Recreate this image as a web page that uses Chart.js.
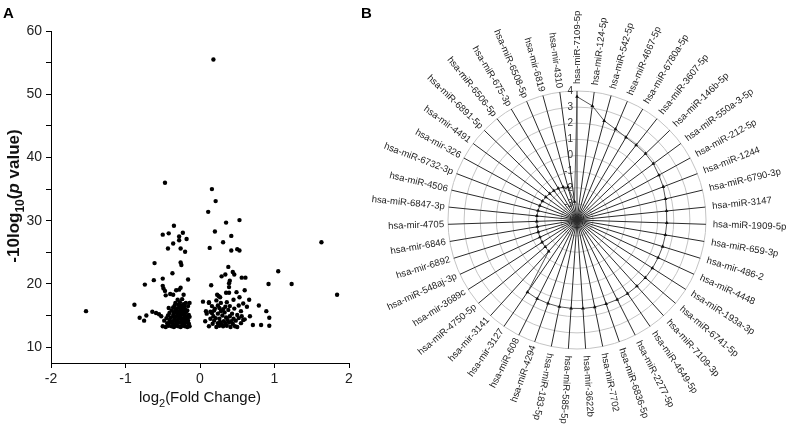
<!DOCTYPE html>
<html>
<head>
<meta charset="utf-8">
<title>Volcano plot and radar chart</title>
<script src="https://cdn.jsdelivr.net/npm/chart.js@4.4.1/dist/chart.umd.min.js"></script>
<style>
  body { margin: 0; background: #fff; }
  #figure { position: relative; width: 787px; height: 426px; overflow: hidden; }
  .panel { position: absolute; top: 0; }
  .panel-letter { position: absolute; top: 4px; font: bold 15px Arial, "Liberation Sans", sans-serif; color: #000; z-index: 2; }
</style>
</head>
<body>
<div id="figure">
  <div class="panel-letter" style="left:3px">A</div>
  <div class="panel-letter" style="left:361px">B</div>
  <canvas id="volcanoChart" class="panel" width="370" height="426" style="left:0"></canvas>
  <canvas id="radarChart" class="panel" width="429" height="426" style="left:358px"></canvas>
</div>
<script>
// ---- Panel A data: [log2(fold change), -10log10(p value)] ----
const outlierPoints = [
  [0.18,55.5],[-0.47,36],[0.16,35],[0.21,33.1],[0.11,31.4],[0.53,30.1],[-0.35,29.2],[0.35,29.7],
  [0.2,28.3],[-0.5,27.8],[-0.42,28.0],[-0.23,28.1],[-0.28,27.5],[0.42,27.6],[-0.18,27.1],[-0.28,26.9],
  [-0.36,26.4],[1.63,26.6],[0.31,26.6],[-0.43,25.6],[-0.26,25.6],[-0.2,25.1],[0.13,25.7],[0.5,25.5],
  [0.53,25.3],[0.42,25.3],[-0.26,23.4],[-0.25,23.0],[-0.61,23.3],[0.38,22.7],[-0.37,21.7],[1.05,22.0],
  [0.44,21.9],[0.46,21.5],[0.34,21.5],[0.29,21.2],[0.56,21.0],[0.61,21.0],[-0.5,20.85],[-0.16,20.7],
  [-0.62,20.6],[0.4,20.5],[0.39,20.1],[0.92,20.0],[1.23,20.0],[-0.74,19.9],[0.15,19.8],[-0.5,19.7],
  [-0.49,19.3],[0.6,19.0],[-0.26,19.4],[0.39,19.5],[-0.47,18.9],[-0.32,19.0],[-0.28,19.1],[0.49,18.7],
  [0.35,18.6],[0.39,18.6],[1.84,18.3],[-0.46,18.2],[-0.4,18.4],[-0.36,18.3],[-0.22,18.3],[0.23,18.3],
  [0.25,18.1],[0.27,17.9],[0.66,17.5],[0.53,17.9],[0.04,17.2],[-0.14,17.0],[0.12,17.1],[-0.88,16.7],
  [0.79,16.6],[0.89,15.7],[-1.53,15.7],[-0.64,15.6],[-0.59,15.4],[0.93,14.65],[-0.81,14.65],[-0.72,15.0],
  [-0.75,14.2],[-0.52,14.9],[0.71,13.5],[0.82,13.5],[0.93,13.4],[0.63,16.4],[0.67,14.9],[0.6,14.4],
  [-0.55,15.2]
];
const downClusterPoints = [
  [-0.50,13.3],[-0.46,13.2],[-0.42,13.4],[-0.38,13.3],[-0.35,13.2],[-0.32,13.4],[-0.29,13.3],[-0.26,13.2],
  [-0.23,13.4],[-0.20,13.3],[-0.17,13.2],[-0.14,13.3],
  [-0.44,13.8],[-0.40,13.9],[-0.36,13.7],[-0.31,13.8],[-0.27,13.9],[-0.24,13.7],[-0.21,13.8],[-0.18,13.9],[-0.15,13.7],
  [-0.48,14.2],[-0.41,14.3],[-0.37,14.1],[-0.33,14.2],[-0.30,14.3],[-0.25,14.2],[-0.22,14.1],[-0.19,14.3],[-0.16,14.2],
  [-0.45,14.6],[-0.39,14.7],[-0.34,14.5],[-0.28,14.6],[-0.26,14.8],[-0.23,14.5],[-0.20,14.7],[-0.17,14.6],[-0.14,14.8],
  [-0.43,15.0],[-0.36,15.1],[-0.32,14.9],[-0.29,15.0],[-0.24,15.2],[-0.21,15.0],[-0.18,14.9],[-0.15,15.1],
  [-0.41,15.4],[-0.35,15.5],[-0.31,15.4],[-0.27,15.3],[-0.25,15.6],[-0.22,15.4],[-0.19,15.5],
  [-0.38,15.8],[-0.33,15.9],[-0.30,15.7],[-0.26,15.9],[-0.23,15.8],[-0.20,16.0],[-0.17,15.8],
  [-0.42,16.2],[-0.36,16.3],[-0.31,16.1],[-0.28,16.3],[-0.24,16.2],[-0.21,16.4],
  [-0.34,16.6],[-0.29,16.7],[-0.25,16.6],[-0.22,16.8],[-0.16,16.5],
  [-0.33,17.0],[-0.27,17.1],[-0.19,17.0],[-0.30,17.5],[-0.24,17.6]
];
const upClusterPoints = [
  [0.12,13.3],[0.22,13.2],[0.26,13.4],[0.31,13.3],[0.36,13.4],[0.41,13.2],[0.47,13.3],[0.50,13.2],
  [0.17,13.7],[0.24,13.8],[0.29,13.6],[0.34,13.7],[0.39,13.9],[0.44,13.7],[0.55,13.8],
  [0.07,14.1],[0.19,14.2],[0.27,14.0],[0.32,14.1],[0.37,14.3],[0.42,14.1],[0.48,14.2],[0.58,14.3],
  [0.14,14.5],[0.21,14.6],[0.26,14.5],[0.35,14.7],[0.45,14.5],[0.52,14.6],
  [0.18,14.9],[0.30,15.0],[0.40,14.9],[0.50,15.1],[0.56,14.9],
  [0.09,15.3],[0.16,15.4],[0.24,15.3],[0.33,15.5],[0.43,15.3],
  [0.08,15.7],[0.14,15.6],[0.19,15.8],[0.28,15.7],[0.38,15.9],[0.55,15.7],
  [0.20,16.1],[0.26,16.2],[0.31,16.0],[0.46,16.1],
  [0.16,16.5],[0.24,16.6],[0.34,16.4],[0.40,16.5],[0.52,16.6],
  [0.12,17.0],[0.28,17.0],[0.36,17.1],[0.58,16.9],[0.22,17.4],[0.45,17.5]
];
const xRangeA = [-2, 2];
const yRangeA = [7.5, 60];

// ---- Panel B data ----
const miRNAs = [
  'hsa-miR-7109-5p','hsa-miR-124-5p','hsa-miR-542-5p','hsa-miR-4667-5p','hsa-miR-6780a-5p',
  'hsa-miR-3607-5p','hsa-miR-146b-5p','hsa-miR-550a-3-5p','hsa-miR-212-5p','hsa-miR-1244',
  'hsa-miR-6790-3p','hsa-miR-3147','hsa-miR-1909-5p','hsa-miR-659-3p','hsa-mir-486-2',
  'hsa-miR-4448','hsa-miR-193a-3p','hsa-miR-6741-5p','hsa-miR-7109-3p','hsa-miR-4649-5p',
  'hsa-miR-2277-5p','hsa-miR-6836-5p','hsa-miR-7702','hsa-mir-3622b','hsa-miR-585-5p',
  'hsa-miR-183-5p','hsa-miR-4294','hsa-miR-608','hsa-mir-3127','hsa-mir-3141',
  'hsa-miR-4750-5p','hsa-mir-3689c','hsa-miR-548aj-3p','hsa-mir-6892','hsa-mir-6846',
  'hsa-mir-4705','hsa-miR-6847-3p','hsa-miR-4506','hsa-miR-6732-3p','hsa-mir-326',
  'hsa-mir-4491','hsa-miR-6891-5p','hsa-miR-6506-5p','hsa-miR-675-3p','hsa-miR-6508-5p',
  'hsa-mir-6819','hsa-mir-4310'
];
const log2FC = [
  3.65, 3.14, 2.38, 2.12, 1.96, 1.92, 1.91, 1.88, 1.79, 1.73,
  1.64, 1.58, 1.57, 1.56, 1.56, 1.55, 1.55, 1.55, 1.54, 1.54,
  1.53, 1.51, 1.51, 1.50, 1.49, 1.49, 1.48, 1.47, 1.43, -1.38,
  -1.42, -1.43, -1.46, -1.48, -1.50, -1.50, -1.50, -1.52, -1.53, -1.56,
  -1.60, -1.65, -1.68, -1.72, -1.79, -1.89, -2.85
];
const radialRange = [-4, 4];

const FONT = 'Arial, "Liberation Sans", sans-serif';
Chart.defaults.font.family = FONT;
Chart.defaults.color = '#222';

// draws text pieces (normal / sub / italic) centred on the current origin
function drawRichText(ctx, parts, size, weight) {
  const fontFor = kind => {
    const sz = kind === 'sub' ? Math.round(size * 0.72) : size;
    return (kind === 'italic' ? 'italic ' : '') + weight + ' ' + sz + 'px ' + FONT;
  };
  let total = 0;
  parts.forEach(([text, kind]) => { ctx.font = fontFor(kind); total += ctx.measureText(text).width; });
  let x = -total / 2;
  ctx.textAlign = 'left';
  ctx.textBaseline = 'alphabetic';
  parts.forEach(([text, kind]) => {
    ctx.font = fontFor(kind);
    ctx.fillText(text, x, kind === 'sub' ? size * 0.3 : 0);
    x += ctx.measureText(text).width;
  });
}

const axisTitlesPlugin = {
  id: 'axisTitles',
  afterDraw(chart) {
    const ctx = chart.ctx;
    const area = chart.chartArea;
    ctx.save();
    ctx.fillStyle = '#111';
    ctx.translate((area.left + area.right) / 2, 402);
    drawRichText(ctx, [['log', 'n'], ['2', 'sub'], ['(Fold Change)', 'n']], 15, 'normal');
    ctx.restore();

    ctx.save();
    ctx.fillStyle = '#111';
    ctx.translate(19, 196);
    ctx.rotate(-Math.PI / 2);
    drawRichText(ctx, [['-10log', 'n'], ['10', 'sub'], ['(', 'n'], ['p', 'italic'], [' value)', 'n']], 17, 'bold');
    ctx.restore();
  }
};

const radarLabelsPlugin = {
  id: 'radarLabels',
  afterDraw(chart) {
    const scale = chart.scales.r;
    const ctx = chart.ctx;
    ctx.save();
    ctx.font = '9.5px ' + FONT;
    ctx.fillStyle = '#222';
    ctx.textBaseline = 'middle';
    miRNAs.forEach((name, i) => {
      const angle = scale.getIndexAngle(i) - Math.PI / 2;
      const deg = angle * 180 / Math.PI;
      const flip = deg > 105;
      const pos = scale.getPointPosition(i, scale.drawingArea + (flip ? 4 : 7));
      ctx.save();
      ctx.translate(pos.x, pos.y);
      if (flip) {
        ctx.rotate(angle + Math.PI);
        ctx.textAlign = 'right';
      } else {
        ctx.rotate(angle);
        ctx.textAlign = 'left';
      }
      ctx.fillText(name, 0, 0);
      ctx.restore();
    });

    // value labels up the vertical spoke
    ctx.font = '10px ' + FONT;
    ctx.fillStyle = '#333';
    ctx.textAlign = 'right';
    scale.ticks.forEach(t => {
      if (t.value === radialRange[0]) return;
      const y = scale.yCenter - scale.getDistanceFromCenterForValue(t.value);
      ctx.fillText(String(t.value), scale.xCenter - 4, y);
    });
    ctx.restore();
  }
};

const toXY = p => ({ x: p[0], y: p[1] });

new Chart(document.getElementById('volcanoChart'), {
  type: 'scatter',
  data: {
    datasets: [{
      data: outlierPoints.concat(downClusterPoints, upClusterPoints).map(toXY),
      backgroundColor: '#000',
      borderWidth: 0,
      pointRadius: 2.2
    }]
  },
  options: {
    responsive: false,
    animation: false,
    layout: { padding: { left: 0, top: 31, right: 21, bottom: 0 } },
    plugins: { legend: { display: false }, tooltip: { enabled: false } },
    scales: {
      x: {
        type: 'linear',
        min: xRangeA[0],
        max: xRangeA[1],
        afterFit: s => { s.height = 63; },
        grid: { drawOnChartArea: false, tickLength: 5, color: '#000' },
        border: { color: '#000', width: 1 },
        ticks: { stepSize: 1, padding: 3, color: '#222', font: { size: 14 } }
      },
      y: {
        min: yRangeA[0],
        max: yRangeA[1],
        afterFit: s => { s.width = 51; },
        grid: { drawOnChartArea: false, tickLength: 5, color: '#000' },
        border: { color: '#000', width: 1 },
        ticks: {
          stepSize: 5,
          includeBounds: false,
          padding: 4,
          color: '#222',
          font: { size: 14 },
          callback: v => (v % 10 === 0 ? v : '')
        }
      }
    }
  },
  plugins: [axisTitlesPlugin]
});

new Chart(document.getElementById('radarChart'), {
  type: 'radar',
  data: {
    labels: miRNAs,
    datasets: [{
      data: log2FC,
      borderColor: '#555',
      borderWidth: 1,
      fill: false,
      pointStyle: 'triangle',
      pointRadius: 2.2,
      pointBackgroundColor: '#111',
      pointBorderColor: '#111',
      pointBorderWidth: 0
    }]
  },
  options: {
    responsive: false,
    animation: false,
    layout: { padding: { left: 90, right: 81, top: 91, bottom: 77 } },
    plugins: { legend: { display: false }, tooltip: { enabled: false } },
    elements: { line: { tension: 0 } },
    scales: {
      r: {
        min: radialRange[0],
        max: radialRange[1],
        ticks: { display: false, stepSize: 1 },
        pointLabels: { display: false },
        grid: { circular: true, color: '#c4c4c4', lineWidth: 1 },
        angleLines: { color: '#2a2a2a', lineWidth: 1 }
      }
    }
  },
  plugins: [radarLabelsPlugin]
});
</script>
</body>
</html>
